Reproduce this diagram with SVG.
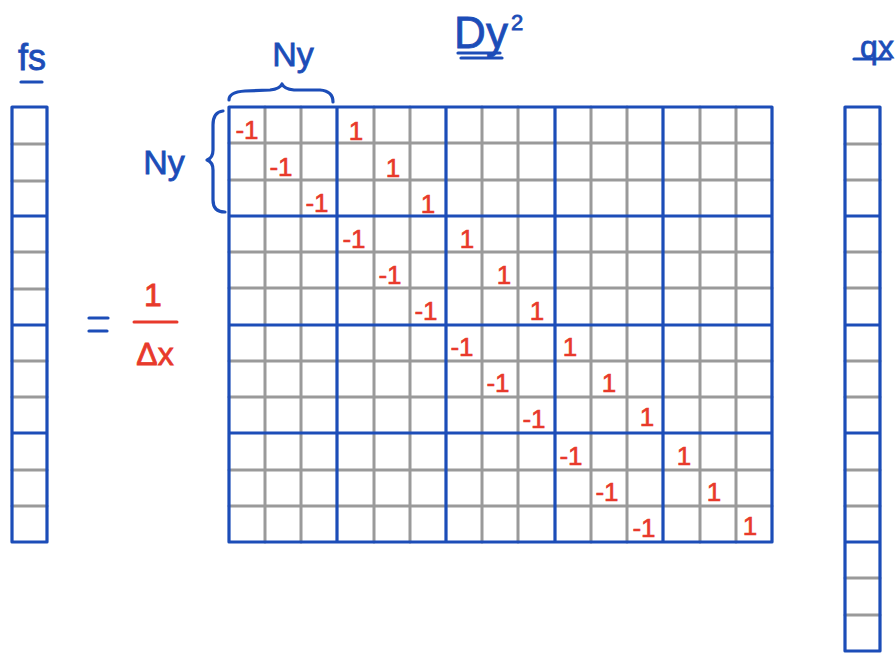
<svg xmlns="http://www.w3.org/2000/svg" width="895" height="655" viewBox="0 0 895 655">
<defs>
<style>
.g{stroke:#9a9a9a;stroke-width:3;fill:none;stroke-linecap:round}
.b{stroke:#1c4db8;stroke-width:3.2;fill:none;stroke-linecap:round;stroke-linejoin:round}
.r{fill:#e8392b;stroke:#e8392b;stroke-width:0.6;font-family:"Liberation Sans",Arial,sans-serif;font-size:26px;text-anchor:middle}
.bt{fill:#1c4db8;stroke:#1c4db8;stroke-width:0.8;font-family:"Liberation Sans",Arial,sans-serif;text-anchor:middle}
.ru{stroke:#e8392b;stroke-width:3;fill:none;stroke-linecap:round}
</style>
</defs>
<rect width="895" height="655" fill="#ffffff"/>

<g id="fs-vector">
<path class="g" d="M12 144H47M12 181H47M12 252H47M12 289H47M12 361H47M12 397H47M12 470H47M12 506H47"/>
<path class="b" d="M12 107H47V542H12ZM12 216H47M12 325H47M12 433H47"/>
<text class="bt" x="32" y="70" font-size="36">fs</text>
<path class="b" d="M21 82H42"/>
</g>

<g id="matrix">
<path class="g" d="M265 107V542M301 107V542M374 107V542M410 107V542M482 107V542M518 107V542M591 107V542M627 107V542M700 107V542M736 107V542"/>
<path class="g" d="M229 143H772M229 180H772M229 252H772M229 288H772M229 361H772M229 397H772M229 470H772M229 506H772"/>
<path class="b" d="M229 107H772V542H229ZM337 107V542M446 107V542M555 107V542M663 107V542M229 216H772M229 325H772M229 433H772"/>
<g id="entries">
<text class="r" x="247" y="139">-1</text><text class="r" x="356" y="140">1</text>
<text class="r" x="281" y="176">-1</text><text class="r" x="393" y="177">1</text>
<text class="r" x="317" y="212">-1</text><text class="r" x="428" y="213">1</text>
<text class="r" x="354" y="248">-1</text><text class="r" x="467" y="248">1</text>
<text class="r" x="390" y="284">-1</text><text class="r" x="504" y="284">1</text>
<text class="r" x="426" y="320">-1</text><text class="r" x="537" y="320">1</text>
<text class="r" x="462" y="356">-1</text><text class="r" x="570" y="356">1</text>
<text class="r" x="498" y="392">-1</text><text class="r" x="609" y="392">1</text>
<text class="r" x="534" y="428">-1</text><text class="r" x="647" y="426">1</text>
<text class="r" x="571" y="465">-1</text><text class="r" x="684" y="465">1</text>
<text class="r" x="607" y="501">-1</text><text class="r" x="714" y="501">1</text>
<text class="r" x="644" y="537">-1</text><text class="r" x="750" y="535">1</text>
</g>
</g>

<g id="top-brace">
<path class="b" d="M229 100Q229 92 245 91L270 90Q280 89 282 84Q284 89 294 90L320 90Q333 91 333 102"/>
<text class="bt" x="293" y="66" font-size="34">Ny</text>
</g>

<g id="left-brace">
<path class="b" d="M223 111Q213 112 213 125L213 150Q213 158 207 160Q213 162 213 170L213 200Q213 212 225 212"/>
<text class="bt" x="164" y="174" font-size="34">Ny</text>
</g>

<g id="title">
<text class="bt" x="481" y="48" font-size="44">Dy</text>
<text class="bt" x="517" y="30" font-size="22">2</text>
<path class="b" d="M458 53H500M461 58H502"/>
</g>

<g id="qx-vector">
<path class="g" d="M845 144H880M845 180H880M845 252H880M845 288H880M845 361H880M845 397H880M845 470H880M845 506H880M845 578H880M845 615H880"/>
<path class="b" d="M845 107H880V651H845ZM845 216H880M845 325H880M845 433H880M845 542H880"/>
<text class="bt" x="877" y="58" font-size="32">qx</text>
<path class="b" d="M854 59H890"/>
</g>

<g id="scale">
<path class="b" d="M89 318H108M89 331H107"/>
<text x="153" y="306" fill="#e8392b" stroke="#e8392b" stroke-width="0.8" font-family="Liberation Sans,Arial,sans-serif" font-size="32" text-anchor="middle">1</text>
<path class="ru" d="M134 322H177"/>
<text x="155" y="365" fill="#e8392b" stroke="#e8392b" stroke-width="0.8" font-family="Liberation Sans,Arial,sans-serif" font-size="32" text-anchor="middle">Δx</text>
</g>
</svg>
